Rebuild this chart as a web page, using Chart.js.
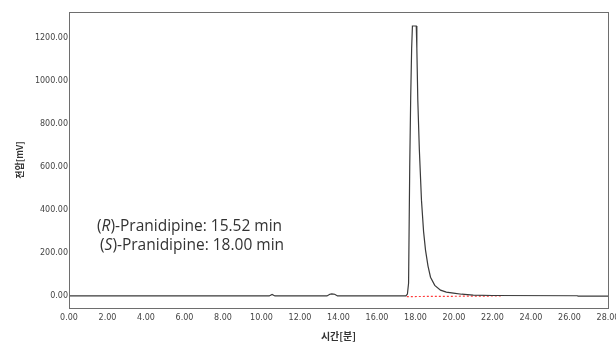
<!DOCTYPE html>
<html>
<head>
<meta charset="utf-8">
<script src="https://cdn.jsdelivr.net/npm/chart.js@4.4.1/dist/chart.umd.min.js"></script>
<style>
  html, body { margin: 0; padding: 0; background: #ffffff; }
  #wrap { width: 616px; height: 342px; position: relative; }
</style>
</head>
<body>
<div id="wrap"><canvas id="chromChart" width="616" height="342"></canvas></div>
<script>
// Chromatogram trace (time in min, signal in mV)
const timeMin = [0, 10.4, 10.55, 10.7, 13.4, 13.55, 13.65, 13.8, 13.95, 17.5, 17.58, 17.64, 17.7, 17.75, 17.8, 17.84,
  18.04, 18.07, 18.12, 18.2, 18.31, 18.42, 18.52, 18.65, 18.78, 19.0, 19.3, 19.6, 19.97, 20.4, 21.0, 22.0, 26.4, 26.45, 28.0];
const signalMv = [1, 1, 8, 1, 1, 9, 11, 9, 1, 1, 10, 60, 600, 920, 1150, 1255,
  1255, 1150, 910, 680, 446, 300, 214, 140, 88, 50, 28, 19, 14, 9, 5, 3, 2, 0, 0];

// Integration baseline (red dashed)
const baseTime = [17.55, 22.45];
const baseMv = [-2, 1];

// Axis ticks
const xTicks = [0, 2, 4, 6, 8, 10, 12, 14, 16, 18, 20, 22, 24, 26, 28];
const yTicks = [0, 200, 400, 600, 800, 1000, 1200];

// Annotation lines: [italic label, rest]
const peakLabels = [
  ['R', '-Pranidipine: 15.52 min'],
  ['S', '-Pranidipine: 18.00 min']
];

const tickFont = { family: 'DejaVu Sans', size: 8 };

// frame around plot area + peak annotation
const framePlugin = {
  id: 'frame',
  afterDraw(chart) {
    const ctx = chart.ctx;
    const a = chart.chartArea;
    ctx.save();
    ctx.strokeStyle = '#6e6e6e';
    ctx.lineWidth = 1;
    ctx.strokeRect(Math.round(a.left) + 0.5, Math.round(a.top) + 0.5,
      Math.round(a.right - a.left), Math.round(a.bottom - a.top));

    // annotation text
    ctx.fillStyle = '#333333';
    ctx.textBaseline = 'middle';
    const font = "'Open Sans', 'DejaVu Sans', sans-serif";
    const size = '15.5px ';
    const rows = [{ x: 97, y: 227 }, { x: 100, y: 246 }];
    peakLabels.forEach((lbl, i) => {
      let x = rows[i].x;
      const y = rows[i].y;
      ctx.font = size + font;
      ctx.fillText('(', x, y);
      x += ctx.measureText('(').width;
      ctx.font = 'italic ' + size + font;
      ctx.fillText(lbl[0], x, y);
      x += ctx.measureText(lbl[0]).width;
      ctx.font = size + font;
      ctx.fillText(')' + lbl[1], x, y);
    });
    ctx.restore();
  }
};

new Chart(document.getElementById('chromChart'), {
  type: 'line',
  data: {
    datasets: [
      {
        label: 'signal',
        data: timeMin.map((t, i) => ({ x: t, y: signalMv[i] })),
        borderColor: '#3a3a3a',
        borderWidth: 1.2,
        pointRadius: 0,
        tension: 0
      },
      {
        label: 'baseline',
        data: baseTime.map((t, i) => ({ x: t, y: baseMv[i] })),
        borderColor: '#ff3b3b',
        borderWidth: 1.2,
        borderDash: [2, 2],
        pointRadius: 0
      }
    ]
  },
  options: {
    responsive: false,
    animation: false,
    layout: { padding: { left: 0, top: 12, right: 8, bottom: 0 } },
    plugins: { legend: { display: false }, tooltip: { enabled: false } },
    scales: {
      x: {
        type: 'linear',
        min: 0,
        max: 28,
        afterBuildTicks: s => { s.ticks = xTicks.map(v => ({ value: v })); },
        afterFit: s => { s.height = 34; s.paddingLeft = 0; s.paddingRight = 0; },
        grid: { display: false, drawTicks: false },
        border: { display: false },
        ticks: {
          font: tickFont,
          color: '#444444',
          padding: 5,
          maxRotation: 0,
          autoSkip: false,
          callback: v => v.toFixed(2)
        },
        title: {
          display: true,
          text: '시간[분]',
          font: { family: 'Noto Sans CJK KR', size: 10, weight: 'bold' },
          color: '#333333',
          padding: { top: 1, bottom: 0 }
        }
      },
      y: {
        min: -55,
        max: 1320,
        afterBuildTicks: s => { s.ticks = yTicks.map(v => ({ value: v })); },
        afterFit: s => { s.width = 69; },
        grid: { display: false, drawTicks: false },
        border: { display: false },
        ticks: {
          font: tickFont,
          color: '#444444',
          padding: 1,
          autoSkip: false,
          callback: v => v.toFixed(2)
        },
        title: {
          display: true,
          text: '전압[mV]',
          font: { family: 'Noto Sans CJK KR', size: 9, weight: 'bold' },
          color: '#333333',
          padding: { top: 14, bottom: 4 }
        }
      }
    }
  },
  plugins: [framePlugin]
});
</script>
</body>
</html>
